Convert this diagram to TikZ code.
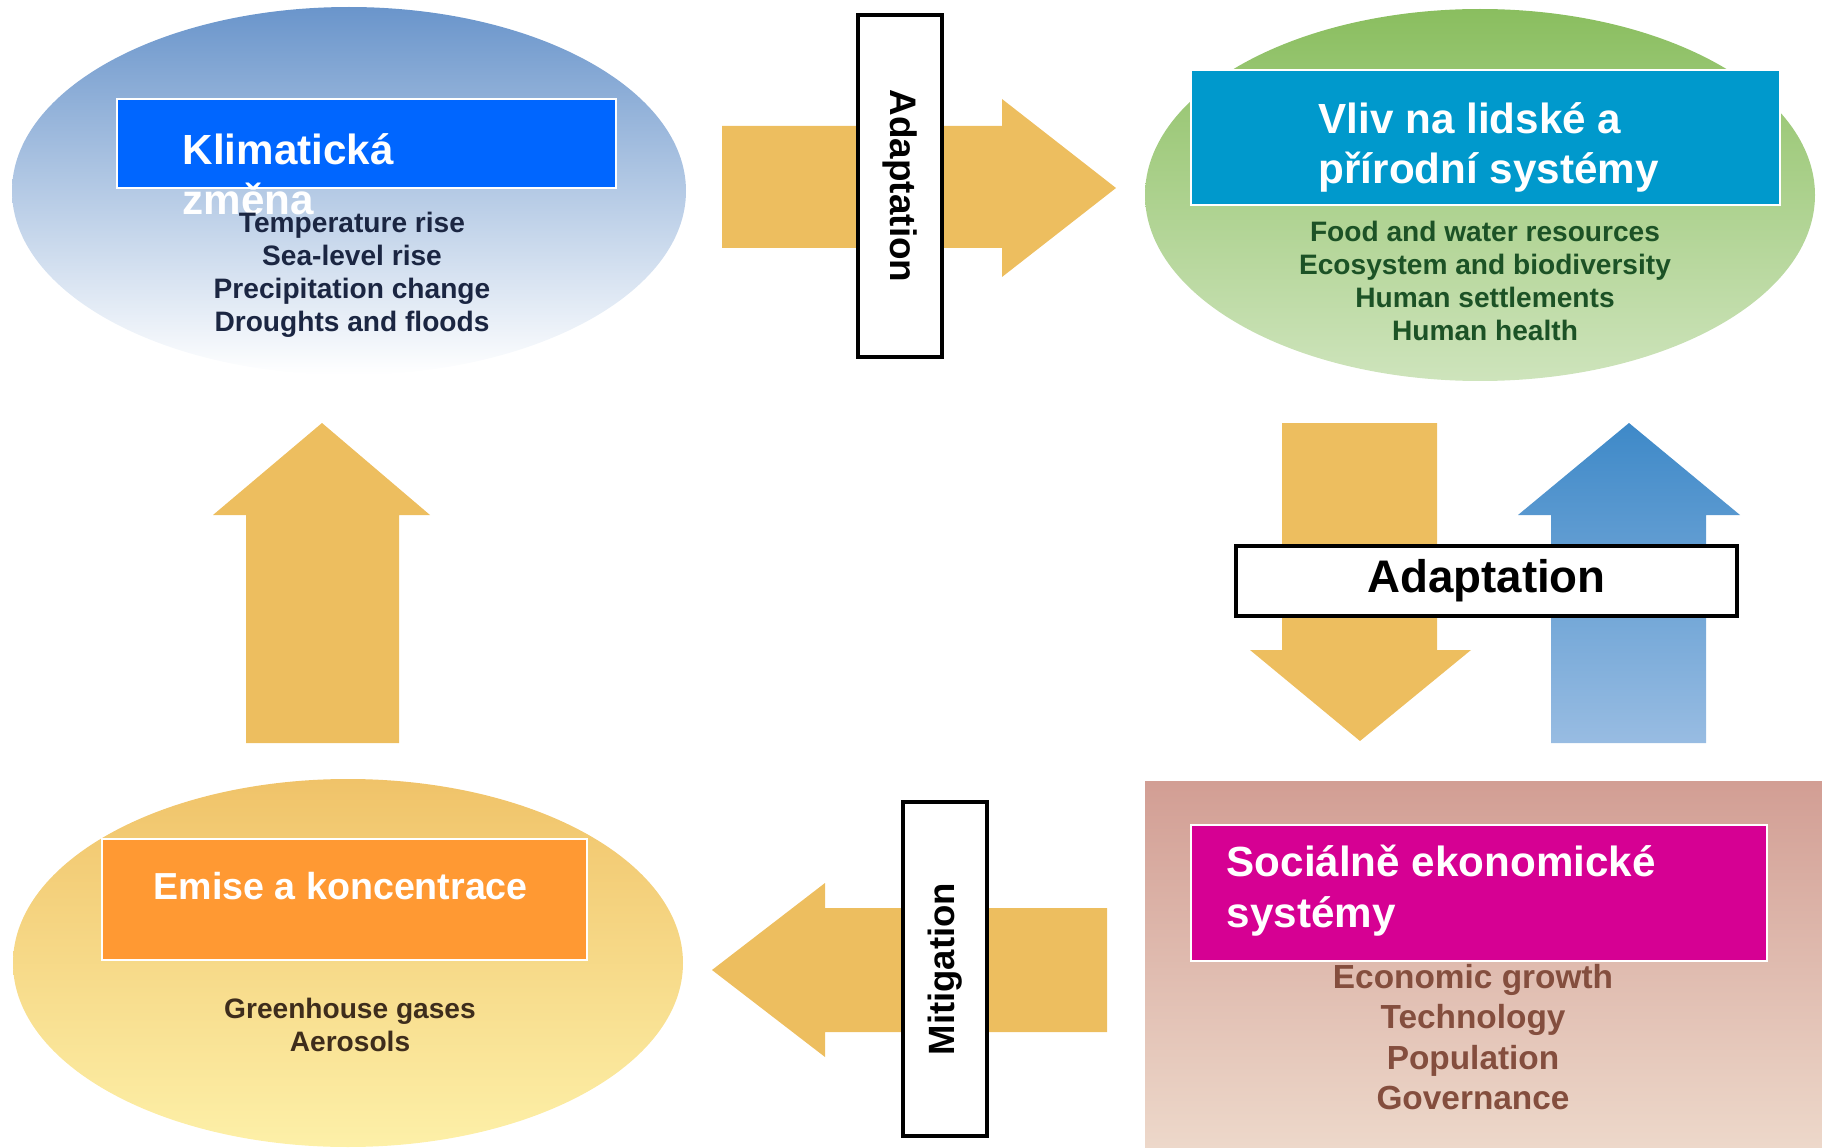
\documentclass[tikz,border=0pt]{standalone}
\usepackage{fontspec}
\setmainfont{Liberation Sans}
\usepackage{tikz}
\usetikzlibrary{shapes.geometric}
\definecolor{arrowyel}{RGB}{237,190,95}
\definecolor{klimablue}{RGB}{0,102,255}
\definecolor{vlivblue}{RGB}{0,153,204}
\definecolor{emiseorange}{RGB}{255,153,51}
\definecolor{socmagenta}{RGB}{214,0,147}
\definecolor{navytxt}{RGB}{27,38,66}
\definecolor{greentxt}{RGB}{28,82,38}
\definecolor{browntxt}{RGB}{62,45,28}
\definecolor{rosetxt}{RGB}{132,78,62}

\begin{document}
\begin{tikzpicture}[x=0.1mm,y=-0.1mm,
				blob/.style={ellipse,inner sep=0pt},
				head/.style={draw=white,line width=0.6pt,inner sep=0pt},
				headtxt/.style={text=white,font=\bfseries\fontsize{12}{14.3}\selectfont,
				align=left,inner sep=0pt,anchor=base west},
				items/.style={font=\bfseries\fontsize{8}{9.4}\selectfont,align=center,inner sep=0pt},
				tag/.style={draw=black,line width=1pt,fill=white,inner sep=0pt}]
				\useasboundingbox (0,0) rectangle (1822,1148);
				% the four fields
				\node[blob,top color={rgb,255:red,106;green,149;blue,203},bottom color=white,
				minimum width=67.4mm,minimum height=36.8mm] (klima) at (349,191) {};
				\node[blob,top color={rgb,255:red,138;green,190;blue,95},
				bottom color={rgb,255:red,206;green,228;blue,188},
				minimum width=67mm,minimum height=37.2mm] (vliv) at (1480,195) {};
				\node[blob,top color={rgb,255:red,240;green,195;blue,105},
				bottom color={rgb,255:red,253;green,240;blue,168},
				minimum width=67mm,minimum height=36.8mm] (emise) at (348,963) {};
				\node[rectangle,inner sep=0pt,top color={rgb,255:red,210;green,158;blue,148},
				bottom color={rgb,255:red,237;green,216;blue,202},
				minimum width=67.7mm,minimum height=36.7mm] (soc) at (1483.5,964.5) {};
				% block arrows
				\fill[arrowyel] (722,126) -- (1002,126) -- (1002,99) -- (1116,188) -- (1002,277)
				-- (1002,248) -- (722,248) -- cycle;
				\fill[arrowyel] (1107,908) -- (825,908) -- (825,883) -- (712,970) -- (825,1057)
				-- (825,1032) -- (1107,1032) -- cycle;
				\fill[arrowyel] (246,743) -- (246,515) -- (213,515) -- (322,423) -- (430,515)
				-- (399,515) -- (399,743) -- cycle;
				\fill[arrowyel] (1282,423) -- (1437,423) -- (1437,650) -- (1471,650) -- (1360,741)
				-- (1250,650) -- (1282,650) -- cycle;
				\shade[top color={rgb,255:red,62;green,137;blue,200},
				bottom color={rgb,255:red,152;green,188;blue,226}]
				(1551,743) -- (1551,515) -- (1518,515) -- (1629,423) -- (1740,515)
				-- (1706,515) -- (1706,743) -- cycle;
				% title boxes
				\node[head,fill=klimablue,minimum width=49.9mm,minimum height=8.9mm] (klimabox) at (366.5,143.5) {};
				\node[head,fill=vlivblue,minimum width=58.9mm,minimum height=13.5mm] (vlivbox) at (1485.5,137.5) {};
				\node[head,fill=emiseorange,minimum width=48.5mm,minimum height=12.1mm] (emisebox) at (344.5,899.5) {};
				\node[head,fill=socmagenta,minimum width=57.6mm,minimum height=13.6mm] (socbox) at (1479,893) {};
				\node[headtxt] (klimatxt) at (182,215) {Klimatická\\změna};
				\node[headtxt] (vlivtxt) at (1318,184) {Vliv na lidské a\\přírodní systémy};
				\node[headtxt,font=\bfseries\fontsize{10.7}{13}\selectfont] (emisetxt) at (153,899) {Emise a koncentrace};
				\node[headtxt] (soctxt) at (1226,927) {Sociálně ekonomické\\systémy};
				% contents
				\node[items,text=navytxt] (klimaitems) at (352,275)
				{Temperature rise\\Sea-level rise\\Precipitation change\\Droughts and floods};
				\node[items,text=greentxt] (vlivitems) at (1485,281)
				{Food and water resources\\Ecosystem and biodiversity\\Human settlements\\Human health};
				\node[items,text=browntxt] (emiseitems) at (350,1025)
				{Greenhouse gases\\Aerosols};
				\node[items,text=rosetxt,font=\bfseries\fontsize{9.5}{11.5}\selectfont] (socitems) at (1473,1037)
				{Economic growth\\Technology\\Population\\Governance};
				% labels on the arrows
				\node[tag,rotate=-90,minimum width=34.2mm,minimum height=8.4mm,
				font=\bfseries\fontsize{10.5}{12}\selectfont] (adapttop) at (900,186) {Adaptation};
				\node[tag,minimum width=50.1mm,minimum height=7mm,
				font=\bfseries\fontsize{13}{15}\selectfont] (adaptright) at (1486.5,581) {Adaptation};
				\node[tag,rotate=90,minimum width=33.4mm,minimum height=8.4mm,
				font=\bfseries\fontsize{10.4}{12}\selectfont] (mitig) at (945,969) {Mitigation};
			\end{tikzpicture}
\end{document}
